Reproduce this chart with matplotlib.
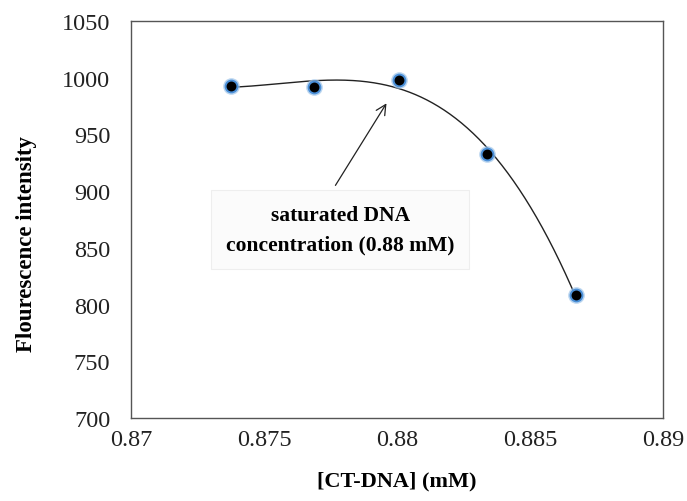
import numpy as np
import matplotlib
matplotlib.use("Agg")
import matplotlib.pyplot as plt

conc = [0.87375, 0.87689, 0.88009, 0.88340, 0.88672]
intensity = [993, 992, 998, 933, 808]
xticks = [0.87, 0.875, 0.88, 0.885, 0.89]
xticklabels = ["0.87", "0.875", "0.88", "0.885", "0.89"]
yticks = [700, 750, 800, 850, 900, 950, 1000, 1050]

fig = plt.figure(figsize=(6.87, 5.02), dpi=100)
ax = fig.add_axes([131/687, 1-419/502, (663-131)/687, (419-22)/502])

coef = np.polyfit(conc, intensity, 3)
xs = np.linspace(min(conc), max(conc), 300)
ax.plot(xs, np.polyval(coef, xs), color="#222222", lw=1.0, zorder=2)

ax.plot(conc, intensity, "o", ms=12, mfc="#9fc5ea", mec="none", alpha=0.7, zorder=3)
ax.plot(conc, intensity, "o", ms=8.5, mfc="black", mec="#4a8fd8", mew=1.4, zorder=4)

ax.set_xlim(0.87, 0.89)
ax.set_ylim(700, 1050)
ax.set_xticks(xticks)
ax.set_xticklabels(xticklabels)
ax.set_yticks(yticks)
ax.tick_params(length=0, labelsize=17.5, colors="#222222")
ax.tick_params(axis="y", pad=15)
ax.tick_params(axis="x", pad=8)
for lab in ax.get_xticklabels() + ax.get_yticklabels():
    lab.set_family("Liberation Serif")
for s in ax.spines.values():
    s.set_color("#555555")
    s.set_linewidth(1.0)

ax.set_xlabel("[CT-DNA] (mM)", fontsize=16, fontweight="bold", family="Liberation Serif")
ax.xaxis.set_label_coords(0.5, -0.133)
ax.set_ylabel("Flourescence intensity", fontsize=16.5, fontweight="bold", family="Liberation Serif")
ax.yaxis.set_label_coords(-0.177, 0.44)

ax.text(0.87786, 866, "saturated DNA\nconcentration (0.88 mM)", ha="center", va="center",
        fontsize=15.5, fontweight="bold", family="Liberation Serif", linespacing=1.6,
        bbox=dict(boxstyle="square,pad=0.7", fc="#fbfbfb", ec="#eeeeee", lw=0.8), zorder=5)
ax.annotate("", xy=(0.87966, 979.5), xytext=(0.87763, 903),
            arrowprops=dict(arrowstyle="->", color="#222222", lw=0.9, mutation_scale=18), zorder=5)

fig.savefig("out.png", dpi=100)
